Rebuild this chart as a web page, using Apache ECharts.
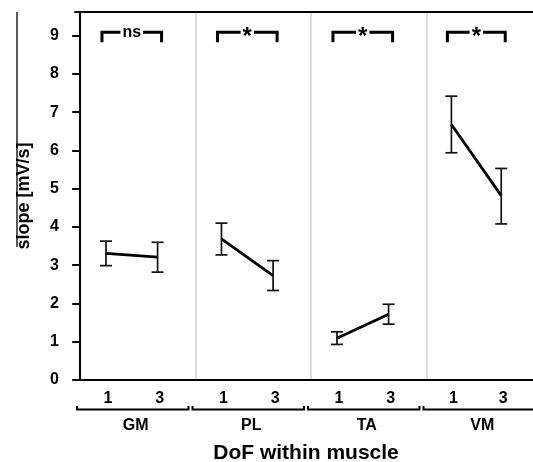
<!DOCTYPE html>
<html><head><meta charset="utf-8">
<script src="https://cdn.jsdelivr.net/npm/echarts@6.0.0/dist/echarts.min.js"></script>
<style>html,body{margin:0;padding:0;background:#fff;}#c{width:533px;height:462px;}</style>
</head><body><div id="c"></div>
<script>
// ---- data ----
const muscles = ['GM', 'PL', 'TA', 'VM'];
const dofLevels = [1, 3];
const meanSlope  = [[3.31, 3.21], [3.69, 2.73], [1.09, 1.72], [6.68, 4.82]];
const upperSlope = [[3.63, 3.60], [4.10, 3.12], [1.26, 1.98], [7.42, 5.53]];
const lowerSlope = [[2.99, 2.82], [3.27, 2.34], [0.93, 1.46], [5.94, 4.08]];
const sigLabels = ['ns', '*', '*', '*'];
const yTicks = [0, 1, 2, 3, 4, 5, 6, 7, 8, 9];
const xTitle = 'DoF within muscle';
const yTitle = 'slope [mV/s]';

// ---- layout / style ----
const FONT = '"Liberation Sans", Arial, sans-serif';
const PLOT_LEFT = 75, PANEL_W = 115.5, TOP = 12, PLOT_H = 368;
const X_MIN = -0.2, X_MAX = 4.275;
const Y_MAX = 9.62;
const SIG_LEVEL = 9.09;

const chart = echarts.init(document.getElementById('c'), null, {renderer: 'canvas'});

const grids = [], xAxes = [], yAxes = [], series = [], graphics = [];

muscles.forEach((m, i) => {
  const left = PLOT_LEFT + i * PANEL_W;
  grids.push({left: left, width: PANEL_W, top: TOP, height: PLOT_H});
  // bottom axis
  xAxes.push({
    type: 'value', gridIndex: i, min: X_MIN, max: X_MAX, position: 'bottom',
    axisLine: {show: true, onZero: false, lineStyle: {color: '#000', width: 2}},
    axisTick: {show: false}, splitLine: {show: false},
    axisLabel: {customValues: dofLevels, fontSize: 16, fontWeight: 'bold', color: '#000',
      fontFamily: FONT, margin: 11, padding: [0, 0, 0, 4]}
  });
  // top frame
  xAxes.push({
    type: 'value', gridIndex: i, min: X_MIN, max: X_MAX, position: 'top',
    axisLine: {show: true, onZero: false, lineStyle: {color: '#000', width: 2}},
    axisTick: {show: false}, splitLine: {show: false}, axisLabel: {show: false}
  });
  if (i === 0) {
    yAxes.push({
      type: 'value', gridIndex: i, min: 0, max: Y_MAX, interval: 1,
      axisLine: {show: true, lineStyle: {color: '#000', width: 2}},
      axisTick: {show: true, customValues: yTicks, length: 8, lineStyle: {color: '#000', width: 2}},
      axisLabel: {customValues: yTicks, fontSize: 16, fontWeight: 'bold', color: '#000',
        fontFamily: FONT, margin: 16},
      splitLine: {show: false},
      name: yTitle, nameLocation: 'middle', nameGap: 42, nameRotate: 90,
      nameTextStyle: {fontSize: 18, fontWeight: 'bold', color: '#000', fontFamily: FONT}
    });
  } else {
    yAxes.push({
      type: 'value', gridIndex: i, min: 0, max: Y_MAX, interval: 1,
      axisLine: {show: true, lineStyle: {color: '#d2d2d2', width: 1.5}},
      axisTick: {show: false}, axisLabel: {show: false}, splitLine: {show: false}
    });
  }

  // mean line
  series.push({
    type: 'line', xAxisIndex: 2 * i, yAxisIndex: i,
    data: dofLevels.map((d, j) => [d, meanSlope[i][j]]),
    symbol: 'none', lineStyle: {color: '#000', width: 2.8}, z: 3, animation: false
  });
  // error bars
  series.push({
    type: 'custom', xAxisIndex: 2 * i, yAxisIndex: i, animation: false, z: 4,
    data: dofLevels.map((d, j) => [d, lowerSlope[i][j], upperSlope[i][j]]),
    encode: {x: 0, y: [1, 2]},
    renderItem: (params, api) => {
      const x = api.value(0);
      const lo = api.coord([x, api.value(1)]);
      const hi = api.coord([x, api.value(2)]);
      const hw = 6;
      const st = {stroke: '#111', lineWidth: 1.7, fill: null};
      return {type: 'group', children: [
        {type: 'line', shape: {x1: lo[0], y1: lo[1], x2: hi[0], y2: hi[1]}, style: st},
        {type: 'line', shape: {x1: lo[0] - hw, y1: lo[1], x2: lo[0] + hw, y2: lo[1]}, style: st},
        {type: 'line', shape: {x1: hi[0] - hw, y1: hi[1], x2: hi[0] + hw, y2: hi[1]}, style: st}
      ]};
    }
  });
  // significance bracket
  series.push({
    type: 'custom', xAxisIndex: 2 * i, yAxisIndex: i, animation: false, z: 5, clip: false,
    data: [[dofLevels[0], dofLevels[1], SIG_LEVEL]],
    encode: {x: [0, 1], y: 2},
    renderItem: (params, api) => {
      const a = api.coord([api.value(0), api.value(2)]);
      const b = api.coord([api.value(1), api.value(2)]);
      const pad = 4, drop = 10;
      const x1 = a[0] - pad, x2 = b[0] + pad, y = a[1];
      const lab = sigLabels[i];
      const isStar = lab === '*';
      return {type: 'group', children: [
        {type: 'polyline', shape: {points: [[x1, y + drop], [x1, y], [x2, y], [x2, y + drop]]},
          style: {stroke: '#000', lineWidth: 3, fill: null}},
        {type: 'text', x: (x1 + x2) / 2, y: y + (isStar ? 5 : 0), z2: 10,
          style: {text: lab, align: 'center', verticalAlign: 'middle',
            font: 'bold ' + (isStar ? 24 : 16) + 'px ' + FONT, fill: '#000',
            backgroundColor: '#fff', padding: isStar ? [-6, 2, -2, 2] : [0, 2]}}
      ]};
    }
  });

  // lower category bracket and muscle label
  const r = left + PANEL_W;
  graphics.push({type: 'polyline', shape: {points: [[left + 2, 406], [left + 2, 409.5], [r - 2, 409.5], [r - 2, 406]]},
    style: {stroke: '#000', lineWidth: 2, fill: null}});
  graphics.push({type: 'text', x: left + PANEL_W / 2 + 3, y: 426,
    style: {text: m, align: 'center', verticalAlign: 'middle', font: 'bold 16px ' + FONT, fill: '#000'}});
});

graphics.push({type: 'text', x: PLOT_LEFT + 2 * PANEL_W, y: 453,
  style: {text: xTitle, align: 'center', verticalAlign: 'middle', font: 'bold 21px ' + FONT, fill: '#000'}});
graphics.push({type: 'line', shape: {x1: 17, y1: 12, x2: 17, y2: 247},
  style: {stroke: '#222', lineWidth: 1.5}});

chart.setOption({
  animation: false,
  backgroundColor: '#fff',
  grid: grids, xAxis: xAxes, yAxis: yAxes, series: series, graphic: graphics
});
</script></body></html>
